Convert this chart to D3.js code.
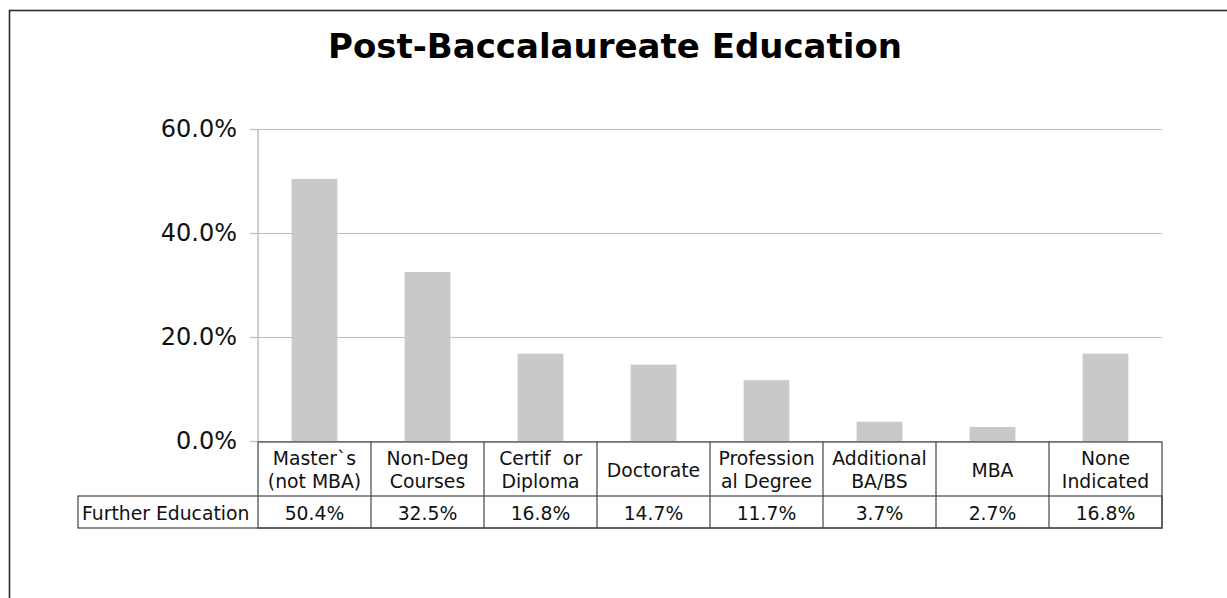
<!DOCTYPE html>
<html>
<head>
<meta charset="utf-8">
<script src="https://cdn.jsdelivr.net/npm/d3@7/dist/d3.min.js"></script>
<style>
  html, body { margin: 0; padding: 0; background: #fff; overflow: hidden; }
  svg { display: block; font-family: "DejaVu Sans", Verdana, sans-serif; }
</style>
</head>
<body>
<svg id="chart" width="1227" height="598"></svg>
<script>
// Post-baccalaureate education shares
const categories = [
  ["Master`s", "(not MBA)"],
  ["Non-Deg", "Courses"],
  ["Certif  or", "Diploma"],
  ["Doctorate"],
  ["Profession", "al Degree"],
  ["Additional", "BA/BS"],
  ["MBA"],
  ["None", "Indicated"]
];
const values = [50.4, 32.5, 16.8, 14.7, 11.7, 3.7, 2.7, 16.8];
const yTicks = [0, 20, 40, 60];
const seriesName = "Further Education";
const title = "Post-Baccalaureate Education";

const svg = d3.select("#chart");
const plot = { left: 258, right: 1162, top: 129, bottom: 441 };
const headerBottom = 496, tableBottom = 528, labelLeft = 78;

// outer chart frame (runs past the right and bottom edges)
svg.append("rect")
  .attr("x", 9.5).attr("y", 10.5)
  .attr("width", 1260).attr("height", 640)
  .attr("fill", "none").attr("stroke", "#2a2a2a").attr("stroke-width", 1.6);

svg.append("text")
  .attr("x", 615).attr("y", 57.5)
  .attr("text-anchor", "middle")
  .attr("font-size", 34).attr("font-weight", "bold")
  .attr("fill", "#000")
  .text(title);

const keys = categories.map((c, i) => i);
const x = d3.scaleBand().domain(keys).range([plot.left, plot.right]).paddingInner(0).paddingOuter(0);
const y = d3.scaleLinear().domain([0, 60]).range([plot.bottom, plot.top]);

// gridlines + ticks
const yAxis = d3.axisLeft(y)
  .tickValues(yTicks)
  .tickSize(-(plot.right - plot.left))
  .tickPadding(21)
  .tickFormat(d => d3.format(".1f")(d) + "%");

const ag = svg.append("g")
  .attr("transform", `translate(${plot.left},0)`)
  .call(yAxis);
ag.select(".domain").remove();
ag.selectAll(".tick line").attr("stroke", "#bdbdbd").attr("stroke-width", 1.2);
ag.selectAll(".tick text")
  .attr("font-size", 24).attr("fill", "#111")
  .attr("font-family", "DejaVu Sans, Verdana, sans-serif");

// short outward tick marks
ag.selectAll(".tick").append("line")
  .attr("x1", -8).attr("x2", 0)
  .attr("stroke", "#bdbdbd").attr("stroke-width", 1.2);

// vertical axis line
svg.append("line")
  .attr("x1", plot.left).attr("x2", plot.left)
  .attr("y1", plot.top).attr("y2", plot.bottom)
  .attr("stroke", "#bdbdbd").attr("stroke-width", 1.5);

// bars
const barW = x.bandwidth() * 0.405;
svg.append("g").selectAll("rect")
  .data(values)
  .join("rect")
  .attr("x", (d, i) => x(i) + (x.bandwidth() - barW) / 2)
  .attr("y", d => y(d))
  .attr("width", barW)
  .attr("height", d => y(0) - y(d))
  .attr("fill", "#c9c9c9");

// data table
const tg = svg.append("g").attr("stroke", "#444").attr("stroke-width", 1.2).attr("fill", "none");
tg.append("rect")
  .attr("x", plot.left).attr("y", plot.bottom + 1)
  .attr("width", plot.right - plot.left).attr("height", tableBottom - plot.bottom - 1);
tg.append("rect")
  .attr("x", labelLeft).attr("y", headerBottom)
  .attr("width", plot.right - labelLeft).attr("height", tableBottom - headerBottom);
keys.slice(1).forEach(i => {
  tg.append("line")
    .attr("x1", x(i)).attr("x2", x(i))
    .attr("y1", plot.bottom + 1).attr("y2", tableBottom);
});

const fs = 18.8;
const hg = svg.append("g").attr("font-size", fs).attr("fill", "#111").attr("text-anchor", "middle");
categories.forEach((lines, i) => {
  const cx = x(i) + x.bandwidth() / 2;
  if (lines.length === 1) {
    hg.append("text").attr("x", cx).attr("y", 476.5)
      .style("white-space", "pre").text(lines[0]);
  } else {
    lines.forEach((ln, j) => {
      hg.append("text").attr("x", cx).attr("y", 465 + j * 23)
        .style("white-space", "pre").text(ln);
    });
  }
});

svg.append("text")
  .attr("x", labelLeft + 4).attr("y", 519.5)
  .attr("font-size", fs).attr("fill", "#111")
  .text(seriesName);

svg.append("g").attr("font-size", fs).attr("fill", "#111").attr("text-anchor", "middle")
  .selectAll("text")
  .data(values)
  .join("text")
  .attr("x", (d, i) => x(i) + x.bandwidth() / 2)
  .attr("y", 519.5)
  .text(d => d3.format(".1f")(d) + "%");
</script>
</body>
</html>
